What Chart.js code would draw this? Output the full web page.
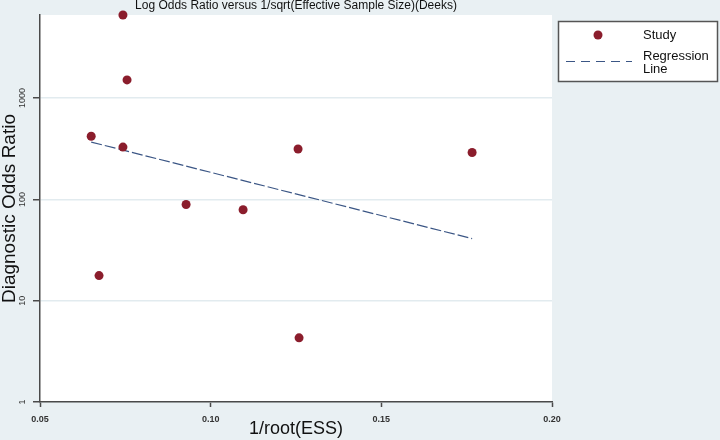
<!DOCTYPE html>
<html>
<head>
<meta charset="utf-8">
<script src="https://cdn.jsdelivr.net/npm/chart.js@4.4.1/dist/chart.umd.min.js"></script>
<style>
  html, body { margin: 0; padding: 0; background: #e9f0f3; }
  #wrap { width: 720px; height: 440px; position: relative; }
</style>
</head>
<body>
<div id="wrap"><canvas id="grafico" width="720" height="440"></canvas></div>
<script>
// Datos
const studyX = [0.0743, 0.0755, 0.0650, 0.0743, 0.0673, 0.0928, 0.1095, 0.1256, 0.1259, 0.1766];
const studyDOR = [6600, 1510, 420, 328, 17.7, 89, 79, 314, 4.3, 290];
const regX = [0.0650, 0.1766];
const regDOR = [368, 41];
const xTicks = [0.05, 0.10, 0.15, 0.20];
const yTicks = [1, 10, 100, 1000];

const colorPunto = '#8b1d2c';
const colorLinea = '#3b5685';
const colorEje = '#4a4a4a';

// Fondo blanco del área de datos, etiquetas del eje Y y leyenda
const extras = {
    id: 'extras',
    beforeDraw(chart) {
        const { ctx, chartArea } = chart;
        ctx.save();
        ctx.fillStyle = '#ffffff';
        ctx.fillRect(chartArea.left, chartArea.top, chartArea.right - chartArea.left, chartArea.bottom - chartArea.top);
        ctx.restore();
    },
    afterDraw(chart) {
        const { ctx } = chart;
        const y = chart.scales.y;
        ctx.save();
        ctx.font = '9px "Liberation Sans", Arial, sans-serif';
        ctx.fillStyle = '#333';
        ctx.textAlign = 'center';
        ctx.textBaseline = 'middle';
        yTicks.forEach(v => {
            const py = y.getPixelForValue(v);
            ctx.save();
            ctx.translate(23, py);
            ctx.rotate(-Math.PI / 2);
            ctx.fillText(String(v), 0, 0);
            ctx.restore();
        });

        // Leyenda
        ctx.fillStyle = '#ffffff';
        ctx.fillRect(558, 21, 160, 61);
        ctx.strokeStyle = '#555';
        ctx.lineWidth = 1.5;
        ctx.strokeRect(558.5, 21.5, 159, 60);

        ctx.fillStyle = colorPunto;
        ctx.beginPath();
        ctx.arc(598, 35, 4.5, 0, Math.PI * 2);
        ctx.fill();

        ctx.strokeStyle = colorLinea;
        ctx.lineWidth = 1;
        ctx.setLineDash([9, 6]);
        ctx.beginPath();
        ctx.moveTo(566, 61.5);
        ctx.lineTo(632, 61.5);
        ctx.stroke();
        ctx.setLineDash([]);

        ctx.fillStyle = '#111';
        ctx.font = '13px "Liberation Sans", Arial, sans-serif';
        ctx.textAlign = 'left';
        ctx.fillText('Study', 643, 35);
        ctx.fillText('Regression', 643, 56);
        ctx.fillText('Line', 643, 69);
        ctx.restore();
    }
};

const ctxDeeks = document.getElementById('grafico').getContext('2d');
new Chart(ctxDeeks, {
    type: 'scatter',
    data: {
        datasets: [{
            label: 'Study',
            data: studyX.map((x, i) => ({ x: x, y: studyDOR[i] })),
            backgroundColor: colorPunto,
            borderColor: colorPunto,
            pointRadius: 4.5,
            pointBorderWidth: 0,
            clip: false
        }, {
            label: 'Regression Line',
            data: regX.map((x, i) => ({ x: x, y: regDOR[i] })),
            showLine: true,
            borderColor: colorLinea,
            borderWidth: 1.2,
            borderDash: [11, 3],
            pointRadius: 0,
            fill: false
        }]
    },
    options: {
        responsive: false,
        animation: false,
        layout: {
            padding: { top: 0, right: 168, bottom: 0, left: 0 }
        },
        plugins: {
            legend: { display: false },
            tooltip: { enabled: false },
            title: {
                display: true,
                fullSize: false,
                text: 'Log Odds Ratio versus 1/sqrt(Effective Sample Size)(Deeks)',
                color: '#111',
                font: { family: '"Liberation Sans", Arial, sans-serif', size: 12, weight: 'normal', lineHeight: 0.92 },
                padding: { top: 0, bottom: 4 }
            }
        },
        scales: {
            x: {
                type: 'linear',
                min: 0.05,
                max: 0.20,
                afterFit: s => { s.height = 38; },
                afterBuildTicks: s => { s.ticks = xTicks.map(v => ({ value: v })); },
                ticks: {
                    color: '#333',
                    padding: 7,
                    maxRotation: 0,
                    font: { family: '"Liberation Sans", Arial, sans-serif', size: 9, weight: 'bold' },
                    callback: v => v.toFixed(2)
                },
                grid: {
                    drawOnChartArea: false,
                    drawTicks: true,
                    tickLength: 5,
                    tickColor: colorEje,
                    tickWidth: 1.5
                },
                border: { color: colorEje, width: 1.5 },
                title: {
                    display: true,
                    text: '1/root(ESS)',
                    color: '#111',
                    font: { family: '"Liberation Sans", Arial, sans-serif', size: 18 },
                    padding: { top: 0, bottom: 0 }
                }
            },
            y: {
                type: 'logarithmic',
                min: 1,
                max: 6600,
                afterFit: s => { s.width = 40; },
                afterBuildTicks: s => { s.ticks = yTicks.map(v => ({ value: v })); },
                ticks: { display: false },
                grid: {
                    color: '#e2ebef',
                    lineWidth: 1.5,
                    drawTicks: true,
                    tickLength: 7,
                    tickColor: colorEje,
                    tickWidth: 1.5
                },
                border: { color: colorEje, width: 1.5 },
                title: {
                    display: true,
                    text: 'Diagnostic Odds Ratio',
                    color: '#111',
                    font: { family: '"Liberation Sans", Arial, sans-serif', size: 19 },
                    padding: { top: -2, bottom: 0 }
                }
            }
        }
    },
    plugins: [extras]
});
</script>
</body>
</html>
